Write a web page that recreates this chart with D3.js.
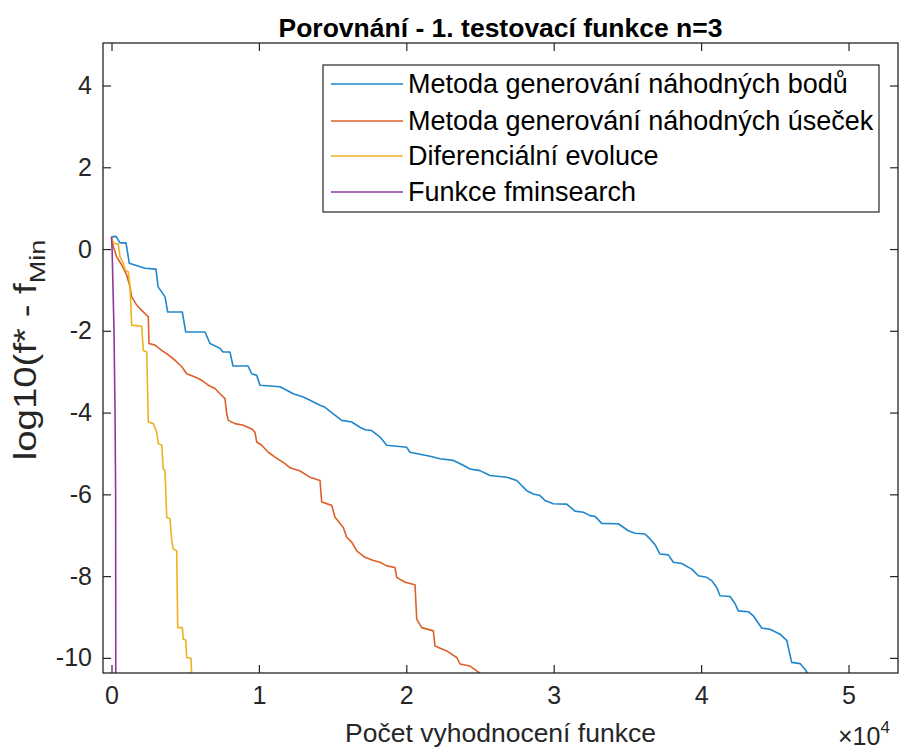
<!DOCTYPE html>
<html>
<head>
<meta charset="utf-8">
<script src="https://cdn.jsdelivr.net/npm/d3@7"></script>
<style>
  html, body { margin: 0; padding: 0; background: #fff; }
  svg { display: block; font-family: "Liberation Sans", Arial, Helvetica, sans-serif; }
</style>
</head>
<body>
<svg id="chart" width="900" height="749"></svg>
<script>
// Convergence of four optimisation methods: log10(f* - fMin) vs. number of function evaluations
const titleText = "Porovnání - 1. testovací funkce n=3";
const xLabelText = "Počet vyhodnocení funkce";
const xTicks = [0, 10000, 20000, 30000, 40000, 50000];
const xTickLabels = ["0", "1", "2", "3", "4", "5"];
const yTicks = [4, 2, 0, -2, -4, -6, -8, -10];
const yTickLabels = ["4", "2", "0", "-2", "-4", "-6", "-8", "-10"];
const seriesNames = [
  "Metoda generování náhodných bodů",
  "Metoda generování náhodných úseček",
  "Diferenciální evoluce",
  "Funkce fminsearch"
];
const seriesColors = ["#1f86cc", "#dd5f2a", "#EDB120", "#8a3a9c"];

// [evaluations, log10(f* - fMin)]
const randomPoints = [
  [0,0.30],[305,0.31],[577,0.15],[984,0.15],[1208,-0.35],[2273,-0.47],[3019,-0.49],[3155,-0.92],
  [3630,-1.17],[3813,-1.54],[4803,-1.54],[5034,-2.03],[6343,-2.03],[6683,-2.31],[7361,-2.43],
  [7565,-2.52],[8039,-2.52],[8243,-2.86],[9261,-2.86],[9512,-3.05],[9851,-3.09],[10075,-3.33],
  [11431,-3.37],[12335,-3.54],[13014,-3.62],[13467,-3.70],[14145,-3.82],[14484,-3.87],[15048,-4.03],
  [15617,-4.19],[16296,-4.23],[16859,-4.36],[17198,-4.42],[17652,-4.44],[18216,-4.60],[18670,-4.80],
  [20027,-4.85],[20251,-4.97],[20929,-5.02],[21608,-5.07],[22286,-5.13],[23189,-5.17],[23867,-5.29],
  [24322,-5.38],[25000,-5.42],[25679,-5.54],[26811,-5.58],[27490,-5.66],[28168,-5.91],[28616,-5.99],
  [29071,-6.03],[29410,-6.15],[29973,-6.23],[30882,-6.24],[31445,-6.41],[32008,-6.44],[32463,-6.52],
  [32802,-6.54],[33256,-6.71],[34383,-6.72],[35061,-6.89],[35516,-6.95],[36194,-6.97],[36533,-7.09],
  [36872,-7.23],[37212,-7.46],[37775,-7.48],[38114,-7.66],[38684,-7.69],[39362,-7.83],[39811,-7.99],
  [40380,-8.03],[40720,-8.11],[41059,-8.28],[41282,-8.48],[41961,-8.50],[42300,-8.67],[42524,-8.85],
  [43202,-8.87],[43541,-8.97],[44111,-9.27],[44674,-9.30],[45353,-9.42],[45807,-9.57],[46146,-10.11],
  [46710,-10.14],[47049,-10.28],[47273,-10.40],[47400,-10.48]
];
const randomSegments = [
  [0,0.30],[122,0.06],[353,-0.19],[692,-0.39],[1031,-0.64],[1255,-0.92],[1370,-1.17],[1710,-1.37],
  [2049,-1.50],[2388,-1.62],[2497,-1.66],[2544,-2.31],[2951,-2.35],[3406,-2.48],[3745,-2.56],
  [4308,-2.72],[4763,-2.88],[5102,-3.05],[5665,-3.13],[6119,-3.21],[6567,-3.33],[7022,-3.41],
  [7361,-3.54],[7700,-3.66],[7815,-4.03],[7924,-4.19],[8379,-4.27],[8942,-4.31],[9512,-4.40],
  [9735,-4.48],[9851,-4.72],[10190,-4.80],[10638,-4.97],[11092,-5.09],[11771,-5.25],[12110,-5.35],
  [12788,-5.43],[13467,-5.58],[14145,-5.66],[14260,-6.19],[14939,-6.27],[15163,-6.56],[15726,-6.81],
  [15957,-7.05],[16296,-7.17],[16635,-7.38],[17198,-7.54],[17761,-7.62],[18216,-7.66],[18670,-7.75],
  [19233,-7.79],[19349,-8.03],[19912,-8.15],[20590,-8.21],[20706,-9.05],[21045,-9.26],[21832,-9.34],
  [21947,-9.71],[22741,-9.83],[23419,-9.99],[23643,-10.15],[24322,-10.20],[24776,-10.32],[25115,-10.40],
  [25300,-10.48]
];
const diffEvolution = [
  [0,0.30],[122,0.14],[461,0.12],[577,-0.19],[801,-0.35],[916,-0.51],[1140,-0.56],[1255,-0.92],
  [1370,-1.86],[2049,-1.89],[2157,-2.48],[2388,-2.52],[2497,-4.23],[2836,-4.27],[3066,-4.48],
  [3175,-4.76],[3406,-4.80],[3514,-5.38],[3630,-5.42],[3745,-6.56],[3969,-6.60],[4084,-7.13],
  [4193,-7.34],[4423,-7.38],[4491,-9.26],[4803,-9.26],[4871,-9.54],[5034,-9.57],[5102,-9.99],
  [5394,-10.01],[5441,-10.48]
];
const fminsearch = [
  [0,0.30],[40,0.00],[170,-2.00],[240,-4.00],[280,-6.00],[285,-8.00],[290,-10.50]
];
const allSeries = [randomPoints, randomSegments, diffEvolution, fminsearch];

const plot = { left: 103, right: 898, top: 43, bottom: 673 };

const svg = d3.select("#chart");

const x = d3.scaleLinear().domain([-577, 53357]).range([plot.left, plot.right]);
const y = d3.scaleLinear().domain([-10.37, 5.04]).range([plot.bottom, plot.top]);

const axisColor = "#262626";
const tickLen = 8;
const fontTick = 25;

// clip region for the curves
svg.append("defs").append("clipPath").attr("id", "plotClip")
  .append("rect")
  .attr("x", plot.left).attr("y", plot.top)
  .attr("width", plot.right - plot.left).attr("height", plot.bottom - plot.top);

// curves
const line = d3.line().x(d => x(d[0])).y(d => y(d[1]));
const curves = svg.append("g").attr("clip-path", "url(#plotClip)");
allSeries.forEach((s, i) => {
  curves.append("path")
    .datum(s)
    .attr("d", line)
    .attr("fill", "none")
    .attr("stroke", seriesColors[i])
    .attr("stroke-width", 1.6)
    .attr("stroke-linejoin", "round");
});

// axes: inward ticks on all four sides
const bottomAxis = d3.axisBottom(x).tickValues(xTicks).tickSize(-tickLen).tickPadding(13)
  .tickFormat((d, i) => xTickLabels[i]);
const topAxis = d3.axisTop(x).tickValues(xTicks).tickSize(-tickLen).tickFormat("");
const leftAxis = d3.axisLeft(y).tickValues(yTicks).tickSize(-tickLen).tickPadding(11)
  .tickFormat((d, i) => yTickLabels[i]);
const rightAxis = d3.axisRight(y).tickValues(yTicks).tickSize(-tickLen).tickFormat("");

function styleAxis(g) {
  g.select(".domain").remove();
  g.selectAll(".tick line").attr("stroke", axisColor).attr("stroke-width", 1.2);
  g.selectAll(".tick text").attr("fill", axisColor).style("font-size", fontTick + "px")
    .style("font-family", "\"Liberation Sans\", Arial, sans-serif");
}
svg.append("g").attr("transform", `translate(0,${plot.bottom})`).call(bottomAxis).call(styleAxis);
svg.append("g").attr("transform", `translate(0,${plot.top})`).call(topAxis).call(styleAxis);
svg.append("g").attr("transform", `translate(${plot.left},0)`).call(leftAxis).call(styleAxis);
svg.append("g").attr("transform", `translate(${plot.right},0)`).call(rightAxis).call(styleAxis);

// axes box
svg.append("rect")
  .attr("x", plot.left).attr("y", plot.top)
  .attr("width", plot.right - plot.left).attr("height", plot.bottom - plot.top)
  .attr("fill", "none").attr("stroke", axisColor).attr("stroke-width", 1.3);

// title
svg.append("text")
  .attr("x", (plot.left + plot.right) / 2).attr("y", 37)
  .attr("text-anchor", "middle")
  .attr("font-weight", "bold").attr("font-size", 26.5).attr("fill", "#000")
  .text(titleText);

// x label
svg.append("text")
  .attr("x", (plot.left + plot.right) / 2).attr("y", 742)
  .attr("text-anchor", "middle")
  .attr("font-size", 26.5).attr("fill", axisColor)
  .text(xLabelText);

// exponent marker
const expo = svg.append("text")
  .attr("x", 838).attr("y", 745).attr("text-anchor", "start")
  .attr("font-size", 25).attr("fill", axisColor);
expo.append("tspan").text("\u00d710");
expo.append("tspan").attr("dy", -12).attr("font-size", 17).text("4");

// y label with subscript, drawn slightly elongated along its reading direction
const yl = svg.append("text")
  .attr("transform", `translate(36,350) rotate(-90) scale(1.2,1)`)
  .attr("text-anchor", "middle")
  .attr("font-size", 32).attr("fill", axisColor);
yl.append("tspan").text("log10(f* - f");
yl.append("tspan").attr("dy", 9).attr("font-size", 22.5).text("Min");

// legend
const legend = svg.append("g");
const lg = { x: 323, y: 65, w: 556, h: 147 };
legend.append("rect")
  .attr("x", lg.x).attr("y", lg.y).attr("width", lg.w).attr("height", lg.h)
  .attr("fill", "#fff").attr("stroke", axisColor).attr("stroke-width", 1.2);
const rowY = [84, 121, 156, 192];
seriesNames.forEach((name, i) => {
  legend.append("line")
    .attr("x1", 331).attr("x2", 403).attr("y1", rowY[i]).attr("y2", rowY[i])
    .attr("stroke", seriesColors[i]).attr("stroke-width", 1.6);
  legend.append("text")
    .attr("x", 408).attr("y", rowY[i]).attr("dy", "0.35em")
    .attr("font-size", 27).attr("fill", "#000")
    .text(name);
});
</script>
</body>
</html>
